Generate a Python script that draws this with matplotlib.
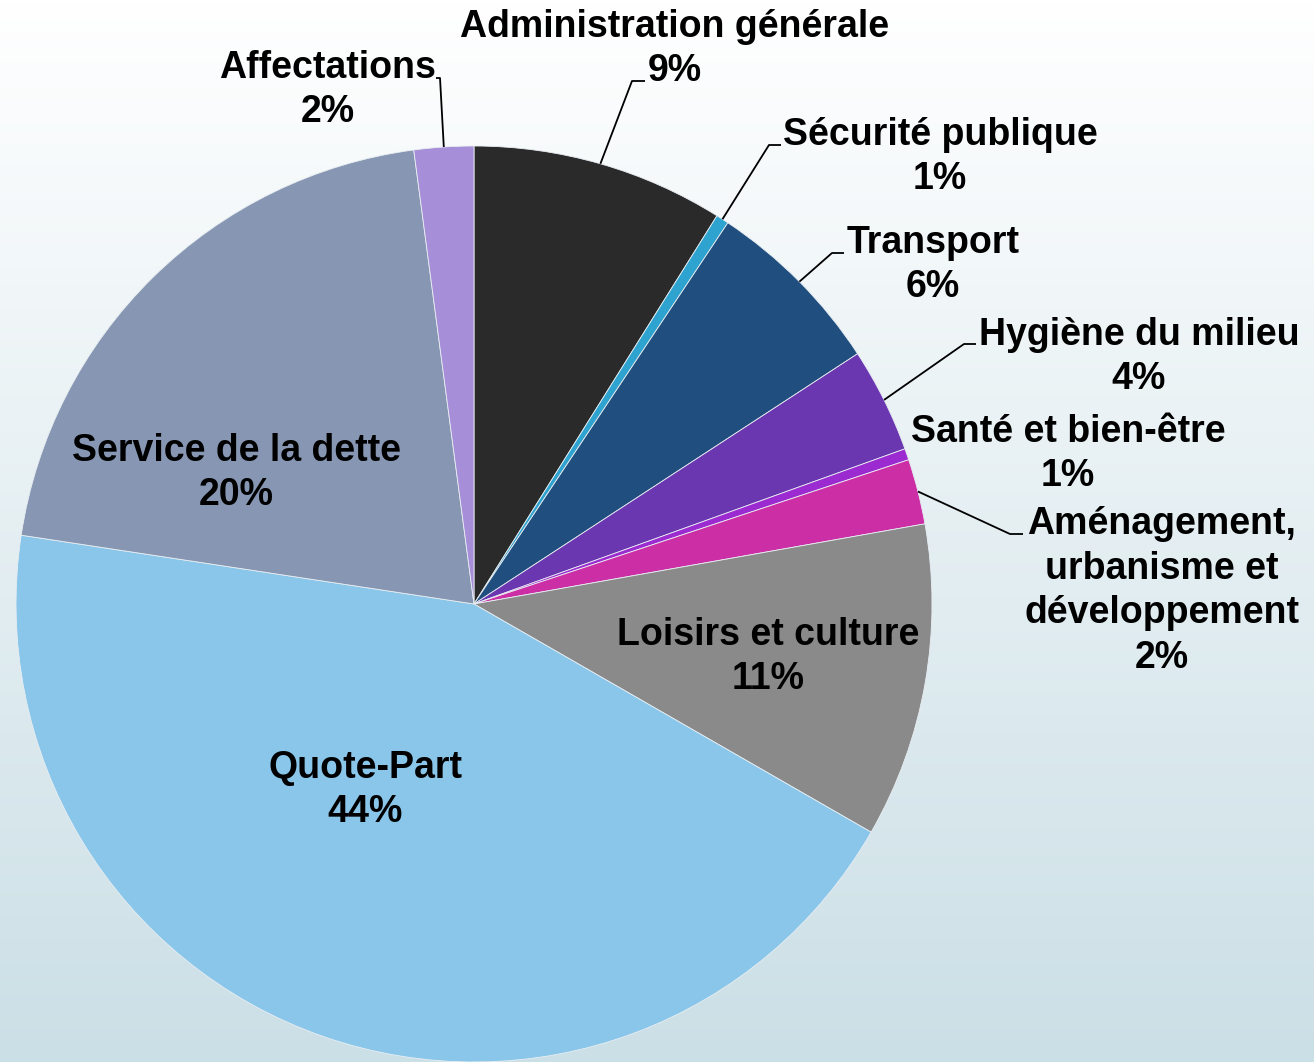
import numpy as np
import matplotlib
matplotlib.use("Agg")
import matplotlib.pyplot as plt
from matplotlib.colors import LinearSegmentedColormap

# ---- data ----
categories = ["Administration générale", "Sécurité publique", "Transport",
              "Hygiène du milieu", "Santé et bien-être",
              "Aménagement,\nurbanisme et\ndéveloppement",
              "Loisirs et culture", "Quote-Part", "Service de la dette",
              "Affectations"]
values = [8.9, 0.45, 6.45, 3.7, 0.4, 2.3, 11.1, 44.1, 20.5, 2.1]
pct_labels = ["9%", "1%", "6%", "4%", "1%", "2%", "11%", "44%", "20%", "2%"]
colors = ["#2a2a2a", "#2fa3cf", "#1f4e7f", "#6a37b0", "#9b2bd0", "#cc2ea6",
          "#8a8a8a", "#89c6ea", "#8797b3", "#a78ed8"]

W, H = 1314, 1062
fig = plt.figure(figsize=(W / 100, H / 100), dpi=100)
ax = fig.add_axes([0, 0, 1, 1])

# background gradient
grad = np.linspace(0, 1, 256).reshape(-1, 1)
cmap = LinearSegmentedColormap.from_list("bg", ["#cbdfe6", "#ffffff"])
ax.imshow(grad, extent=[0, W, 0, H], origin="lower", cmap=cmap, aspect="auto", zorder=0)

cx, cy, R = 474, H - 604, 458
wedges, _ = ax.pie(values, colors=colors, startangle=90, counterclock=False,
                   center=(cx, cy), radius=R, frame=True,
                   wedgeprops=dict(edgecolor="#e8eef2", linewidth=0.6))
for w in wedges:
    w.set_zorder(2)
ax.set_xlim(0, W)
ax.set_ylim(0, H)
ax.set_aspect("equal")
ax.axis("off")

font = dict(family="Liberation Sans", weight="bold", size=27, color="black",
            ha="center", va="center", linespacing=1.3, zorder=5)

# label text centres (pixel coords, y from top)
label_pos = [(675, 49), (940, 157), (933, 265), (1139, 357), (1068, 454),
             (1162, 591), (768, 657), (365, 790), (236, 473), (328, 90)]
# leader elbows (pixel coords, y from top) ; None = no leader
elbows = [((632, 81), (645, 81)), ((769, 145), (781, 145)),
          ((832, 253), (844, 253)), ((964, 344), (976, 344)), None,
          ((1010, 534), (1023, 534)), None, None, None,
          ((440, 78), (436, 78))]

for i, (w, cat, pct) in enumerate(zip(wedges, categories, pct_labels)):
    x, y = label_pos[i]
    ax.text(x, H - y, f"{cat}\n{pct}", **font)
    if elbows[i] is not None:
        mid = np.deg2rad((w.theta1 + w.theta2) / 2)
        sx, sy = cx + R * np.cos(mid), cy + R * np.sin(mid)
        (ex, ey), (tx, ty) = elbows[i]
        ax.plot([sx, ex, tx], [sy, H - ey, H - ty], color="black", lw=1.3,
                zorder=4, solid_capstyle="butt")

fig.savefig("out.png", dpi=100)
